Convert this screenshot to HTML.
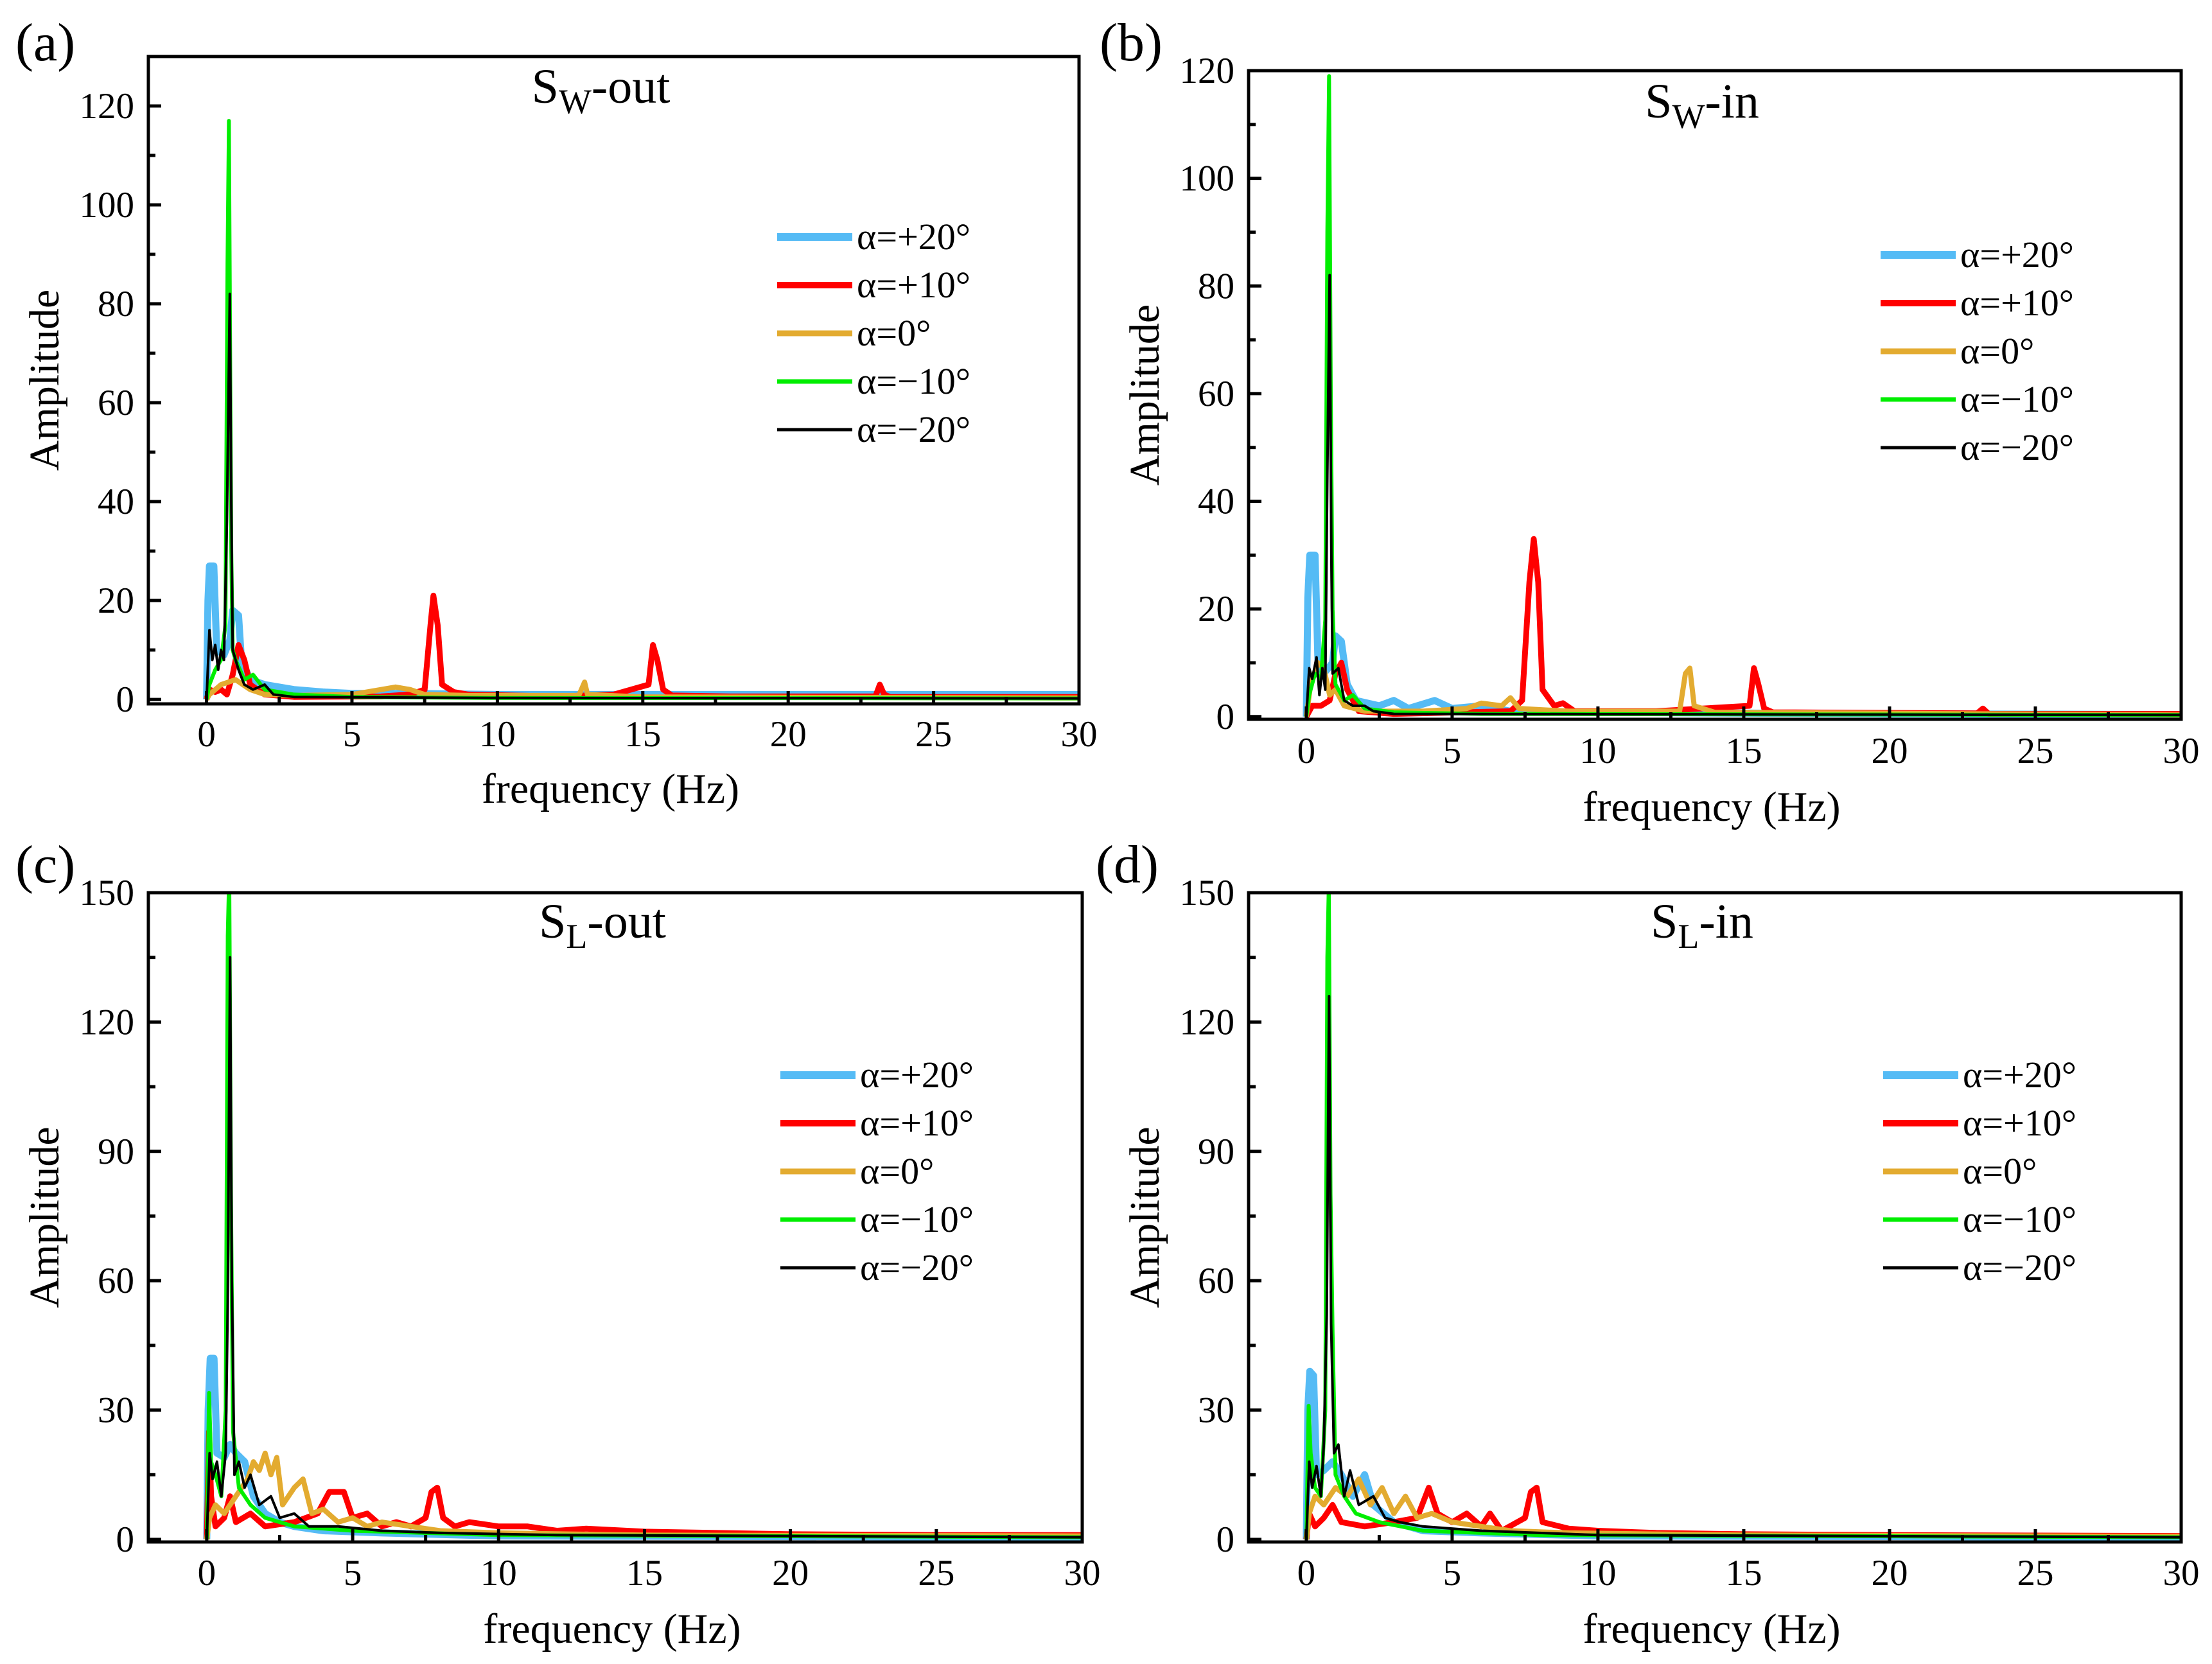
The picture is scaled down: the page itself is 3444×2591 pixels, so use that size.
<!DOCTYPE html>
<html><head><meta charset="utf-8">
<style>
html,body{margin:0;padding:0;background:#fff;}
svg{display:block;font-family:"Liberation Serif",serif;}
</style></head>
<body>
<svg id="fig" width="3444" height="2591" viewBox="0 0 3444 2591" xmlns="http://www.w3.org/2000/svg"></svg>
<script>
// ---- data ----
const seriesLabels = ["α=+20°","α=+10°","α=0°","α=−10°","α=−20°"];
const seriesColors = ["#55bbf5","#ff0000","#e3ab30","#00ee00","#000000"];
const seriesWidths = [11,9,8,6,4];
const xTicks = [0,5,10,15,20,25,30];
const yTicksW = [0,20,40,60,80,100,120];
const yTicksL = [0,30,60,90,120,150];

const aBlue=[[0,0],[0.05,20],[0.1,27],[0.25,27],[0.35,10],[0.6,9],[0.8,12],[0.9,18],[1.1,17],[1.2,8],[1.5,4],[2,3],[3,2],[4,1.5],[5,1.2],[7,1.2],[10,1],[15,1],[20,1],[30,1]];
const aRed=[[0,0],[0.1,2],[0.3,1.5],[0.5,2],[0.7,1],[0.9,5],[1.1,11],[1.3,8],[1.5,3],[2,1],[3,0.5],[6,0.6],[7,1],[7.5,2],[7.7,15],[7.8,21],[7.95,15],[8.1,3],[8.5,1.5],[9,1],[12,0.6],[14,1],[15.2,3],[15.35,11],[15.5,8],[15.7,2],[16,0.8],[18,0.6],[23,0.6],[23.15,3],[23.3,1],[23.5,0.5],[30,0.5]];
const aOrange=[[0,0],[0.1,1],[0.5,3],[1,4],[1.5,2],[2,1],[3,0.8],[5,1],[6,2],[6.5,2.5],[7,2],[7.5,1],[9,0.8],[12.8,0.8],[13,3.5],[13.1,1],[15,0.5],[30,0.3]];
const aGreen=[[0,0],[0.1,3],[0.3,6],[0.5,8],[0.65,15],[0.72,88],[0.77,117],[0.82,60],[0.85,30],[0.9,10],[1,8],[1.3,4],[1.6,5],[2,2],[3,1],[5,0.5],[10,0.3],[30,0.2]];
const aBlack=[[0,0],[0.1,14],[0.2,8],[0.3,11],[0.4,6],[0.5,10],[0.6,8],[0.7,36],[0.8,82],[0.85,40],[0.9,10],[1.1,6],[1.3,3],[1.6,2],[2,3],[2.3,1],[3,0.5],[10,0.3],[30,0.2]];

const bBlue=[[0,0],[0.05,22],[0.12,30],[0.3,30],[0.4,10],[0.6,8],[0.9,10],[1,15],[1.2,14],[1.4,6],[1.7,3],[2.5,2],[3,3],[3.5,1.5],[4.4,3],[5,1.5],[6,2],[7,1],[10,0.8],[20,0.5],[30,0.4]];
const bRed=[[0,0],[0.2,2],[0.5,2],[0.8,3],[1.0,8],[1.2,10],[1.4,5],[1.8,1],[3,0.5],[7,1],[7.4,3],[7.65,25],[7.8,33],[7.95,25],[8.1,5],[8.5,2],[8.8,2.5],[9.2,1],[12,1],[15.2,2],[15.35,9],[15.5,6],[15.7,1.5],[16,0.8],[23,0.6],[23.2,1.5],[23.4,0.5],[30,0.5]];
const bOrange=[[0,0],[0.15,6],[0.4,10],[0.6,9],[0.8,4],[1,5],[1.3,2],[2,1],[4,1],[5.5,1.5],[6,2.5],[6.7,2],[7,3.5],[7.3,1.5],[9,1],[12.8,1],[13,8],[13.15,9],[13.3,2],[14,0.8],[30,0.3]];
const bGreen=[[0,0],[0.1,4],[0.3,8],[0.5,7],[0.65,18],[0.72,90],[0.78,119],[0.84,60],[0.9,20],[1,6],[1.3,3],[1.6,4],[2,1.5],[3,0.8],[6,0.5],[30,0.3]];
const bBlack=[[0,0],[0.1,9],[0.2,7],[0.35,11],[0.45,4],[0.55,9],[0.65,5],[0.72,45],[0.8,82],[0.86,30],[0.9,8],[1.1,9],[1.3,3],[1.6,2],[2,2],[2.3,1],[3,0.5],[30,0.3]];

const cBlue=[[0,0],[0.05,30],[0.12,42],[0.25,42],[0.35,20],[0.6,19],[0.8,22],[1.0,20],[1.3,18],[1.6,10],[2,6],[2.5,4],[3,3],[4,2],[6,1.5],[10,0.8],[30,0.5]];
const cRed=[[0,0],[0.08,25],[0.15,10],[0.3,3],[0.6,5],[0.8,10],[1.0,4],[1.5,6],[2,3],[3,4],[3.8,6],[4.2,11],[4.7,11],[5,5],[5.5,6],[6,3],[6.5,4],[7,3],[7.5,5],[7.7,11],[7.9,12],[8.1,5],[8.5,3],[9,4],[10,3],[11,3],[12,2],[13,2.5],[15,1.8],[20,1.2],[25,1],[30,1]];
const cOrange=[[0,0],[0.1,5],[0.3,8],[0.6,6],[1,10],[1.4,14],[1.6,18],[1.8,16],[2,20],[2.2,15],[2.4,19],[2.6,8],[3,12],[3.3,14],[3.6,6],[4,7],[4.5,4],[5,5],[5.5,3],[6,4],[7,3],[8,2],[10,1.5],[15,1],[30,0.8]];
const cGreen=[[0,0],[0.08,34],[0.15,18],[0.3,15],[0.5,10],[0.65,30],[0.72,140],[0.77,155],[0.83,80],[0.9,25],[1.1,12],[1.5,8],[2,5],[3,3],[5,2],[10,1],[30,0.5]];
const cBlack=[[0,0],[0.1,20],[0.2,14],[0.35,18],[0.5,10],[0.65,20],[0.72,55],[0.8,135],[0.86,60],[0.95,15],[1.1,18],[1.3,12],[1.5,15],[1.8,8],[2.2,10],[2.5,5],[3,6],[3.5,3],[4.5,3],[6,2],[8,1.5],[12,1],[30,0.5]];

const dBlue=[[0,0],[0.05,30],[0.12,39],[0.25,38],[0.35,15],[0.6,16],[0.9,18],[1.2,15],[1.6,10],[2,15],[2.3,8],[3,4],[4,2],[6,1.5],[10,0.8],[30,0.5]];
const dRed=[[0,0],[0.1,6],[0.3,3],[0.6,5],[0.9,8],[1.2,4],[2,3],[3,4],[3.8,5],[4.2,12],[4.5,6],[5,4],[5.5,6],[6,3],[6.3,6],[6.7,2],[7.5,5],[7.7,11],[7.9,12],[8.1,4],[9,2.5],[10,2],[12,1.5],[15,1.2],[20,1],[30,0.8]];
const dOrange=[[0,0],[0.1,6],[0.3,10],[0.6,8],[1,12],[1.4,10],[1.8,14],[2.2,8],[2.6,12],[3,6],[3.4,10],[3.8,5],[4.3,6],[5,4],[6,3],[7,2],[9,1.5],[15,1],[30,0.7]];
const dGreen=[[0,0],[0.08,31],[0.15,20],[0.3,12],[0.5,10],[0.65,30],[0.72,135],[0.77,152],[0.83,80],[0.9,48],[1.0,15],[1.3,10],[1.7,6],[2.5,4],[4,2],[8,1],[30,0.5]];
const dBlack=[[0,0],[0.1,18],[0.2,12],[0.35,17],[0.5,10],[0.6,22],[0.7,52],[0.78,126],[0.85,50],[0.95,20],[1.1,22],[1.3,10],[1.5,16],[1.8,8],[2.3,10],[2.7,5],[3.2,4],[4,3],[6,2],[10,1],[30,0.5]];

const panels=[
 {id:"a",L:231,R:1680,T:88,B:1096,xmin:-2,ymin:-0.9,ymax:130,yTicks:yTicksW,yMinor:10,sub:"W",suf:"-out",titleY:160,legX:1210,legY:369,lab:[24,66],xLabY:1142,xTitleY:1250,data:[aBlue,aRed,aOrange,aGreen,aBlack]},
 {id:"b",L:1944,R:3396,T:110,B:1120,xmin:-1.98,ymin:-0.5,ymax:120,yTicks:yTicksW,yMinor:10,sub:"W",suf:"-in",titleY:183,legX:2928,legY:397,lab:[1712,66],xLabY:1168,xTitleY:1278,data:[bBlue,bRed,bOrange,bGreen,bBlack]},
 {id:"c",L:231,R:1685,T:1390,B:2401,xmin:-2,ymin:-0.6,ymax:150,yTicks:yTicksL,yMinor:15,sub:"L",suf:"-out",titleY:1460,legX:1215,legY:1674,lab:[24,1346],xLabY:2448,xTitleY:2558,data:[cBlue,cRed,cOrange,cGreen,cBlack]},
 {id:"d",L:1944,R:3396,T:1390,B:2401,xmin:-1.98,ymin:-0.6,ymax:150,yTicks:yTicksL,yMinor:15,sub:"L",suf:"-in",titleY:1460,legX:2932,legY:1674,lab:[1706,1346],xLabY:2448,xTitleY:2558,data:[dBlue,dRed,dOrange,dGreen,dBlack]}
];
const NS="http://www.w3.org/2000/svg";
const svg=document.getElementById("fig");
function mk(tag,attrs,parent){const e=document.createElementNS(NS,tag);for(const k in attrs)e.setAttribute(k,attrs[k]);(parent||svg).appendChild(e);return e;}

panels.forEach(p=>{
  const g=mk("g",{});
  
  
  const xs=v=>p.L+(v-p.xmin)/(30-p.xmin)*(p.R-p.L);
  const ys=v=>p.B-(v-p.ymin)/(p.ymax-p.ymin)*(p.B-p.T);
  const cp=mk("clipPath",{id:"clip"+p.id},g);
  mk("rect",{x:p.L,y:p.T,width:p.R-p.L,height:p.B-p.T},cp);
  const sg=mk("g",{"clip-path":"url(#clip"+p.id+")"},g);
  p.data.forEach((arr,i)=>{
    const d=arr.map((pt,j)=>(j?"L":"M")+xs(pt[0]).toFixed(1)+","+ys(pt[1]).toFixed(1)).join(" ");
    const path=mk("path",{d:d,fill:"none",stroke:seriesColors[i],"stroke-width":seriesWidths[i],"stroke-linejoin":"round"},sg);
    
    
  });
  const fr=mk("rect",{x:p.L,y:p.T,width:p.R-p.L,height:p.B-p.T,fill:"none",stroke:"#000","stroke-width":5},g);
  
  
  for(let v=0;v<=30;v+=2.5){
    const major=v%5===0;
    mk("line",{x1:xs(v),x2:xs(v),y1:p.B,y2:p.B-(major?20:11),stroke:"#000","stroke-width":5},g);
  }
  xTicks.forEach(v=>{
    const t=mk("text",{x:xs(v),y:p.xLabY+20,"font-size":57,"text-anchor":"middle"},g);
    t.textContent=v;
    
    
  });
  for(let v=0;v<=p.ymax;v+=p.yMinor){
    const major=p.yTicks.includes(v);
    mk("line",{x1:p.L,x2:p.L+(major?20:11),y1:ys(v),y2:ys(v),stroke:"#000","stroke-width":5},g);
  }
  p.yTicks.forEach(v=>{
    const t=mk("text",{x:p.L-22,y:ys(v)+19,"font-size":57,"text-anchor":"end"},g);
    t.textContent=v;
    
    
  });
  const xt=mk("text",{x:(p.L+p.R)/2-5,y:p.xTitleY,"font-size":66,"text-anchor":"middle"},g);
  xt.textContent="frequency (Hz)";
  
  
  const yc=(p.T+p.B)/2, yx=p.L-140;
  const yt=mk("text",{x:yx,y:yc,"font-size":66,"text-anchor":"middle",transform:"rotate(-90 "+yx+" "+yc+")"},g);
  yt.textContent="Amplitude";
  
  
  const tt=mk("text",{x:(p.L+p.R)/2-20,y:p.titleY,"font-size":76,"text-anchor":"middle"},g);
  
  
  const s1=mk("tspan",{},tt);s1.textContent="S";
  const s2=mk("tspan",{dy:16,"font-size":54},tt);s2.textContent=p.sub;
  const s3=mk("tspan",{dy:-16},tt);s3.textContent=p.suf;
  const pl=mk("text",{x:p.lab[0],y:p.lab[1]+28,"font-size":84},g);
  pl.textContent="("+p.id+")";
  
  
  seriesLabels.forEach((lbl,i)=>{
    const y=p.legY+i*75;
    const le=mk("g",{},g);
    
    
    mk("line",{x1:p.legX,x2:p.legX+117,y1:y,y2:y,stroke:seriesColors[i],"stroke-width":seriesWidths[i]+1},le);
    const t=mk("text",{x:p.legX+124,y:y+19,"font-size":58},le);
    t.textContent=lbl;
  });
});
</script>
</body></html>
